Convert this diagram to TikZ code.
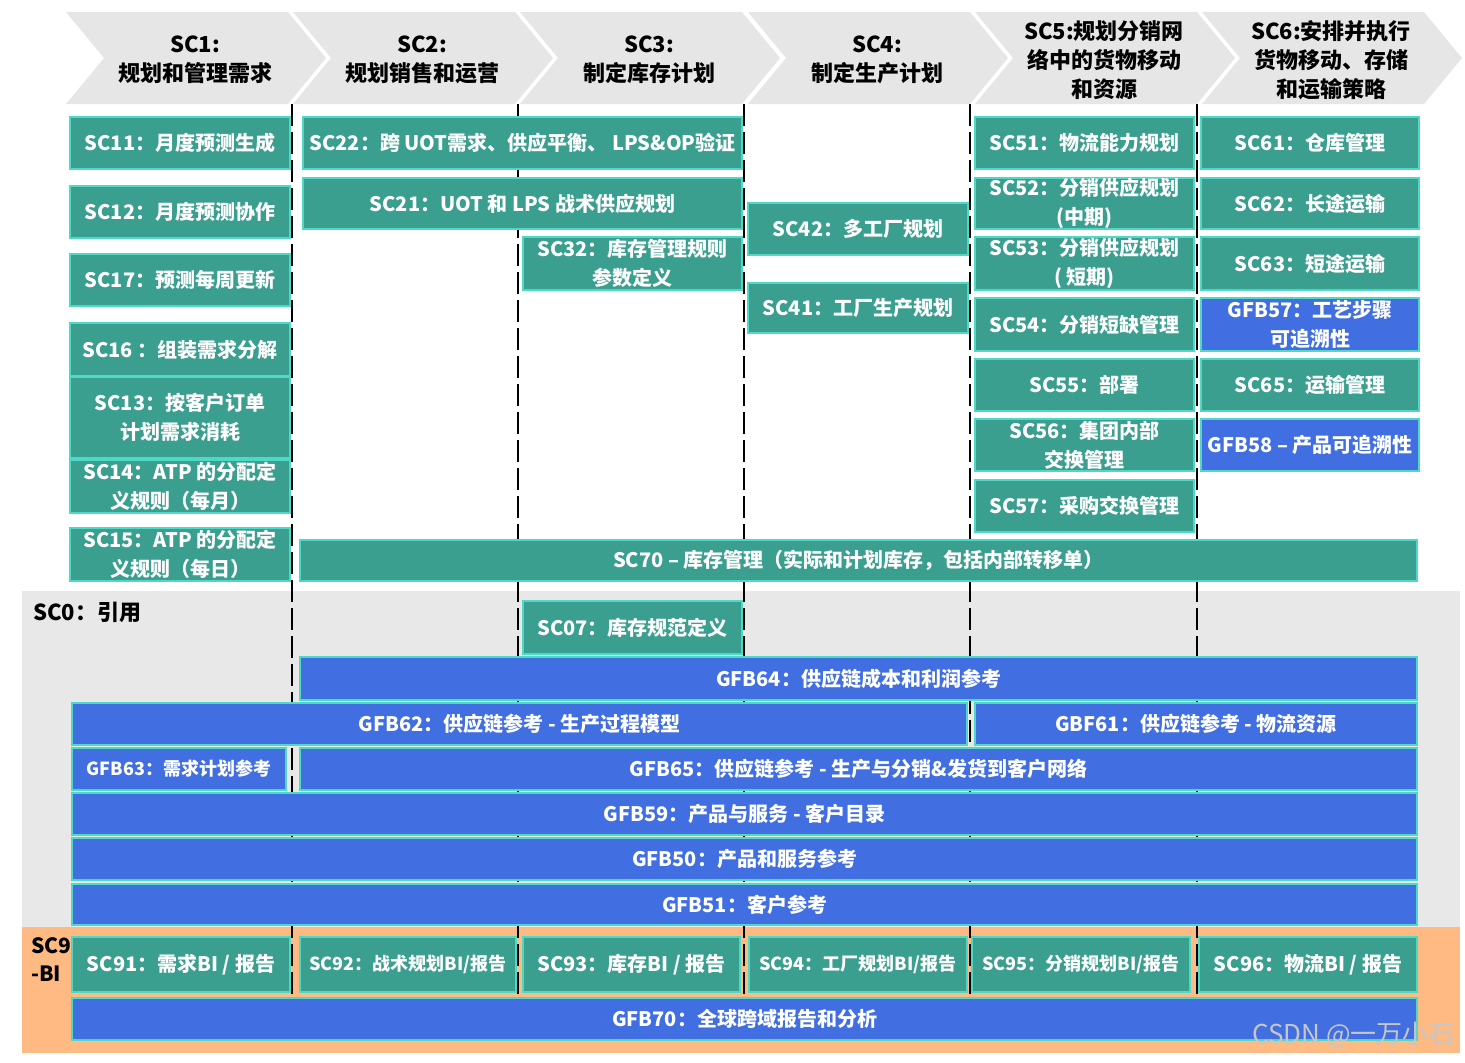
\documentclass[tikz,border=0pt]{standalone}
\usepackage{fontspec}
\setmainfont{Noto Sans CJK SC}
\definecolor{scteal}{HTML}{3A9F8E}
\definecolor{scedge}{HTML}{4ED8C6}
\definecolor{scblue}{HTML}{416EE0}
\definecolor{hdrgray}{HTML}{E6E6E6}
\definecolor{refgray}{HTML}{E8E8E8}
\definecolor{biorange}{HTML}{FFB982}

\begin{document}
\begin{tikzpicture}[x=0.5pt, y=-0.5pt,
	tealbox/.style={fill=scteal, draw=scedge, line width=0.7pt, inner sep=0pt, text=white, align=center, font=\bfseries\fontsize{10}{14.5}\selectfont},
	bluebox/.style={tealbox, fill=scblue},
	smallbox/.style={font=\bfseries\fontsize{9}{13}\selectfont},
	hdrtext/.style={align=center, text=black, font=\bfseries\fontsize{11}{14.5}\selectfont},
	colsep/.style={black, line width=1.2pt, dash pattern=on 11pt off 3pt}]
	\useasboundingbox (0,0) rectangle (1465,1062);
	
	% reference and BI bands
	\fill[refgray] (22,591) rectangle (1460,927);
	\fill[biorange] (22,927) rectangle (1460,1053);
	\node[hdrtext, anchor=west] (sc0) at (26,612) {SC0：引用};
	\node[hdrtext, anchor=west, align=left, font=\bfseries\fontsize{10.5}{14}\selectfont] (sc9) at (24,960) {SC9\\-BI};
	
	% column separators
	\foreach \x in {292,518,744,970,1197}
		\draw[colsep] (\x,104) -- (\x,995);
	
	% header chevrons
	\foreach \s/\txt [count=\i] in {66/{SC1:\\规划和管理需求}, 293/{SC2:\\规划销售和运营}, 520/{SC3:\\制定库存计划}, 748/{SC4:\\制定生产计划}, 975/{SC5:规划分销网\\络中的货物移动\\和资源}, 1202/{SC6:安排并执行\\货物移动、存储\\和运输策略}}
	{
		\fill[hdrgray] (\s,12) -- ++(222,0) -- ++(38,46) -- ++(-38,46) -- ++(-222,0) -- ++(38,-46) -- cycle;
		\node[hdrtext] (hd\i) at (\s+129,60) {\txt};
	}
	
	% teal process boxes: x1/y1/x2/y2/name/text
	\foreach \xa/\ya/\xb/\yb/\nm/\txt in {
		70/117/290/169/sc11/{SC11：月度预测生成},
		70/186/290/238/sc12/{SC12：月度预测协作},
		70/254/290/306/sc17/{SC17：预测每周更新},
		70/323/290/376/sc16/{SC16 ：组装需求分解},
		70/377/290/458/sc13/{SC13：按客户订单\\计划需求消耗},
		70/460/290/513/sc14/{SC14：ATP 的分配定\\义规则（每月）},
		70/528/290/581/sc15/{SC15：ATP 的分配定\\义规则（每日）},
		303/117/742/169/sc22/{SC22：跨 UOT需求、供应平衡、 LPS\&OP验证},
		303/178/742/229/sc21/{SC21：UOT 和 LPS 战术供应规划},
		523/237/742/290/sc32/{SC32：库存管理规则\\参数定义},
		748/203/968/255/sc42/{SC42：多工厂规划},
		748/283/968/333/sc41/{SC41：工厂生产规划},
		975/117/1194/169/sc51/{SC51：物流能力规划},
		975/178/1194/229/sc52/{SC52：分销供应规划\\(中期)},
		975/237/1194/290/sc53/{SC53：分销供应规划\\( 短期)},
		975/298/1194/351/sc54/{SC54：分销短缺管理},
		975/359/1194/411/sc55/{SC55：部署},
		975/419/1194/471/sc56/{SC56：集团内部\\交换管理},
		975/480/1194/532/sc57/{SC57：采购交换管理},
		1201/117/1419/169/sc61/{SC61：仓库管理},
		1201/178/1419/229/sc62/{SC62：长途运输},
		1201/237/1419/290/sc63/{SC63：短途运输},
		1201/359/1419/411/sc65/{SC65：运输管理},
		300/540/1417/581/sc70/{SC70 – 库存管理（实际和计划库存，包括内部转移单）},
		523/601/742/654/sc07/{SC07：库存规范定义},
		72/937/290/992/sc91/{SC91：需求BI / 报告},
		523/937/740/992/sc93/{SC93：库存BI / 报告},
		1199/937/1417/992/sc96/{SC96：物流BI / 报告}}
		\node[tealbox, minimum width={(\xb-\xa)*0.5pt}, minimum height={(\yb-\ya)*0.5pt}] (\nm) at ({(\xa+\xb)/2},{(\ya+\yb)/2}) {\txt};
	
	% BI boxes with longer labels
	\foreach \xa/\ya/\xb/\yb/\nm/\txt in {
		300/937/516/992/sc92/{SC92：战术规划BI/报告},
		749/937/967/992/sc94/{SC94：工厂规划BI/报告},
		972/937/1190/992/sc95/{SC95：分销规划BI/报告}}
		\node[tealbox, smallbox, minimum width={(\xb-\xa)*0.5pt}, minimum height={(\yb-\ya)*0.5pt}] (\nm) at ({(\xa+\xb)/2},{(\ya+\yb)/2}) {\txt};
	
	% blue reference boxes
	\foreach \xa/\ya/\xb/\yb/\nm/\txt in {
		1201/298/1419/351/gfb57/{GFB57：工艺步骤\\可追溯性},
		1201/419/1419/471/gfb58/{GFB58 – 产品可追溯性},
		300/657/1417/700/gfb64/{GFB64：供应链成本和利润参考},
		72/703/967/745/gfb62/{GFB62：供应链参考 - 生产过程模型},
		975/703/1417/745/gbf61/{GBF61：供应链参考 - 物流资源},
		300/748/1417/790/gfb65/{GFB65：供应链参考 - 生产与分销\&发货到客户网络},
		72/793/1417/835/gfb59/{GFB59：产品与服务 - 客户目录},
		72/838/1417/880/gfb50/{GFB50：产品和服务参考},
		72/884/1417/925/gfb51/{GFB51：客户参考},
		72/998/1417/1040/gfb70/{GFB70：全球跨域报告和分析}}
		\node[bluebox, minimum width={(\xb-\xa)*0.5pt}, minimum height={(\yb-\ya)*0.5pt}] (\nm) at ({(\xa+\xb)/2},{(\ya+\yb)/2}) {\txt};
	\node[bluebox, smallbox, minimum width=107pt, minimum height=21pt] (gfb63) at (179,769) {GFB63：需求计划参考};
	
	\node[anchor=east, text=gray!45, font=\fontsize{13}{13}\selectfont] (mark) at (1462,1035) {CSDN @一万小石};
\end{tikzpicture}
\end{document}
